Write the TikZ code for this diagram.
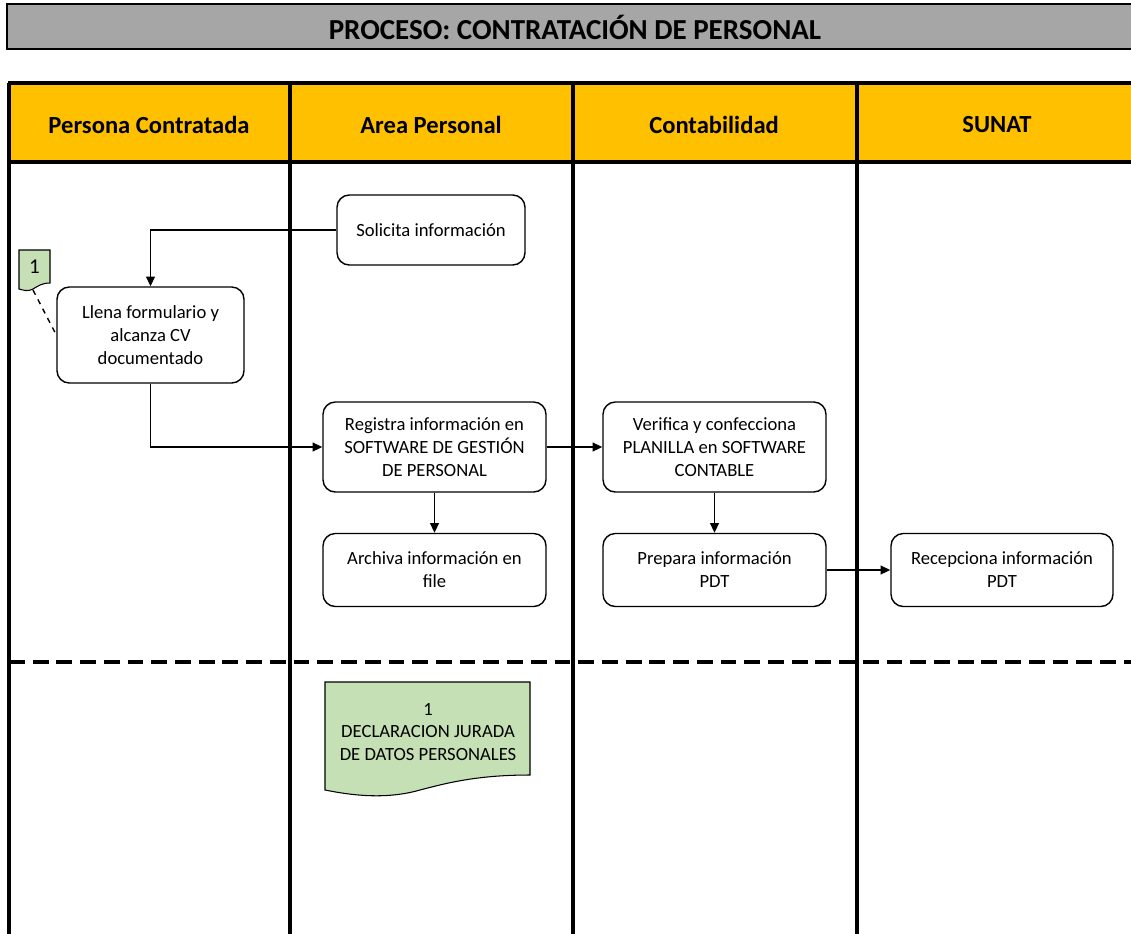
\documentclass[tikz,border=0pt]{standalone}
\usepackage{fontspec}
\setmainfont{Carlito}
\usetikzlibrary{arrows.meta}
\definecolor{titlegray}{HTML}{A6A6A6}
\definecolor{headyellow}{HTML}{FFC000}
\definecolor{docgreen}{HTML}{C5E0B4}
\tikzset{
  lanerule/.style={line width=2pt, draw=black},
  headtext/.style={font=\fontsize{14}{16}\selectfont\bfseries, anchor=center},
  stepbox/.style={draw=black, line width=0.8pt, rounded corners=7pt, fill=white,
    align=center, font=\fontsize{10.6}{13}\selectfont, inner sep=0pt},
  flow/.style={line width=0.8pt, -{Triangle[length=5.5pt,width=5pt]}},
}
\begin{document}
\begin{tikzpicture}[x=0.02cm,y=-0.02cm]
\clip (0,0) rectangle (1131,933);
\fill[white] (0,0) rectangle (1131,933);
% title bar
\draw[line width=1.7pt, fill=titlegray] (7,4) rectangle (1150,49);
\node[font=\fontsize{16.5}{18}\selectfont\bfseries] (title) at (575,27) {PROCESO: CONTRATACIÓN DE PERSONAL};
% header
\fill[headyellow] (8,83) rectangle (1150,162);
\draw[lanerule] (8,83) -- (1150,83);
\draw[lanerule] (8,162) -- (1150,162);
\foreach \x in {9,290,573,857} { \draw[lanerule] (\x,83) -- (\x,940); }
\node[headtext] (h1) at (149,125) {Persona Contratada};
\node[headtext] (h2) at (431,125) {Area Personal};
\node[headtext] (h3) at (714,125) {Contabilidad};
\node[headtext] (h4) at (997,125) {SUNAT};
% dashed separator
\draw[line width=2pt, dash pattern=on 9pt off 4.5pt] (9,662) -- (1150,662);
% steps
\node[stepbox, minimum width=188*0.02cm, minimum height=70*0.02cm] (solicita) at (431,230) {Solicita información};
\node[stepbox, minimum width=187*0.02cm, minimum height=96*0.02cm] (llena) at (150.5,335) {Llena formulario y\\alcanza CV\\documentado};
\node[stepbox, minimum width=223*0.02cm, minimum height=90*0.02cm] (registra) at (434.5,447) {Registra información en\\SOFTWARE DE GESTIÓN\\DE PERSONAL};
\node[stepbox, minimum width=223*0.02cm, minimum height=73*0.02cm] (archiva) at (434.5,570) {Archiva información en\\file};
\node[stepbox, minimum width=223*0.02cm, minimum height=90*0.02cm] (verifica) at (714.5,447) {Verifica y confecciona\\PLANILLA en SOFTWARE\\CONTABLE};
\node[stepbox, minimum width=223*0.02cm, minimum height=73*0.02cm] (prepara) at (714.5,570) {Prepara información\\PDT};
\node[stepbox, minimum width=222*0.02cm, minimum height=73*0.02cm] (recepciona) at (1002,570) {Recepciona información\\PDT};
% connectors
\draw[flow] (solicita.west) -| (llena.north);
\draw[flow] (llena.south) |- (registra.west);
\draw[flow] (registra.east) -- (verifica.west);
\draw[flow] (registra.south) -- (archiva.north);
\draw[flow] (verifica.south) -- (prepara.north);
\draw[flow] (prepara.east) -- (recepciona.west);
% small note 1
\draw[line width=0.6pt, fill=docgreen] (19,250) -- (50,250) -- (50,283)
  .. controls (42,283) and (38,286) .. (33,289) .. controls (28,292) and (23,290) .. (19,289) -- cycle;
\node[font=\fontsize{12}{14}\selectfont] (note) at (34.5,267) {1};
\coordinate (notetip) at (33,290);
\draw[line width=0.8pt, dashed] (notetip) -- (llena.west);
% document
\draw[line width=0.6pt, fill=docgreen] (325,682) -- (530,682) -- (530,775)
  .. controls (480,775) and (450,782) .. (420,790) .. controls (385,800) and (350,795) .. (325,790) -- cycle;
\node[align=center, font=\fontsize{10.6}{13}\selectfont] (doc) at (428,732) {1\\DECLARACION JURADA\\DE DATOS PERSONALES};
\end{tikzpicture}
\end{document}
